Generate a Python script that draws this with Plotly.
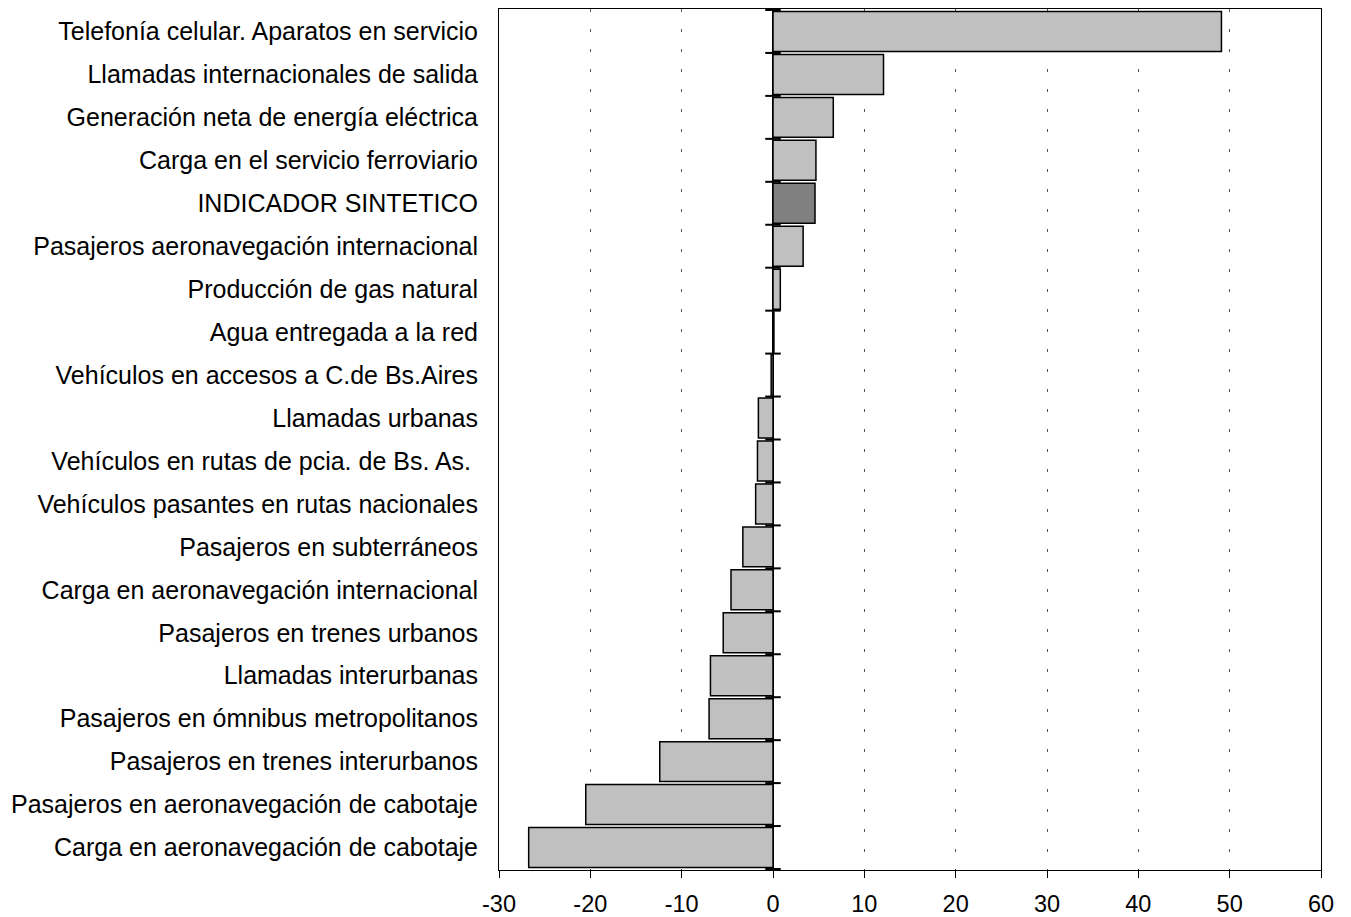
import plotly.graph_objects as go

categories = [
    "Telefonía celular. Aparatos en servicio",
    "Llamadas internacionales de salida",
    "Generación neta de energía eléctrica",
    "Carga en el servicio ferroviario",
    "INDICADOR SINTETICO",
    "Pasajeros aeronavegación internacional",
    "Producción de gas natural",
    "Agua entregada a la red",
    "Vehículos en accesos a C.de Bs.Aires",
    "Llamadas urbanas",
    "Vehículos en rutas de pcia. de Bs. As.\u00a0",
    "Vehículos pasantes en rutas nacionales",
    "Pasajeros en subterráneos",
    "Carga en aeronavegación internacional",
    "Pasajeros en trenes urbanos",
    "Llamadas interurbanas",
    "Pasajeros en ómnibus metropolitanos",
    "Pasajeros en trenes interurbanos",
    "Pasajeros en aeronavegación de cabotaje",
    "Carga en aeronavegación de cabotaje",
]
values = [49.1, 12.1, 6.6, 4.7, 4.6, 3.3, 0.8, 0.1, -0.2, -1.6, -1.7, -1.9,
          -3.3, -4.6, -5.45, -6.85, -7.0, -12.4, -20.5, -26.75]
highlight = "INDICADOR SINTETICO"
x_ticks = [-30, -20, -10, 0, 10, 20, 30, 40, 50, 60]
x_tick_labels = ["-30", "-20", "-10", "0", "10", "20", "30", "40", "50", "60"]

colors = ["#808080" if c == highlight else "#c0c0c0" for c in categories]

fig = go.Figure()
fig.add_trace(go.Bar(
    y=categories, x=values, orientation="h",
    marker=dict(color=colors, line=dict(color="#000000", width=1.5)),
    showlegend=False, hoverinfo="x+y",
))

# small tick marks on the zero line at category boundaries
for i in range(len(categories) + 1):
    fig.add_shape(type="line", xref="x", yref="y",
                  x0=-0.85, x1=0.85, y0=i - 0.5, y1=i - 0.5,
                  line=dict(color="#000000", width=2), layer="above")

ylab_font = dict(family="Liberation Sans, Arial, sans-serif", size=25, color="#000000")
xlab_font = dict(family="Liberation Sans, Arial, sans-serif", size=23.5, color="#000000")

fig.update_layout(
    width=1351, height=917,
    margin=dict(l=499, r=30, t=9, b=47, autoexpand=False),
    plot_bgcolor="#ffffff", paper_bgcolor="#ffffff",
    font=ylab_font,
    bargap=0.07,
    xaxis=dict(
        range=[x_ticks[0], x_ticks[-1]], tickvals=x_ticks, ticktext=x_tick_labels,
        ticks="outside", ticklen=7, tickcolor="#000000", tickwidth=1,
        ticklabelstandoff=6, automargin=False,
        showline=True, linecolor="#000000", linewidth=1, mirror=True,
        showgrid=True, gridcolor="#555555", gridwidth=1, griddash="3px,17px",
        zeroline=True, zerolinecolor="#000000", zerolinewidth=2,
        tickfont=xlab_font,
    ),
    xaxis2=dict(
        overlaying="x", matches="x", side="bottom",
        range=[x_ticks[0], x_ticks[-1]], tickvals=x_ticks,
        ticks="inside", ticklen=7, tickcolor="#000000", tickwidth=1,
        showticklabels=False, showgrid=False, zeroline=False, showline=False,
        automargin=False,
    ),
    yaxis=dict(
        autorange="reversed", ticks="", ticklabelstandoff=15, automargin=False,
        showline=True, linecolor="#000000", linewidth=1, mirror=True,
        showgrid=False, tickfont=ylab_font,
    ),
)

fig.write_html("out.html", config={"displayModeBar": False},
               post_script="document.body.style.margin='0';")
